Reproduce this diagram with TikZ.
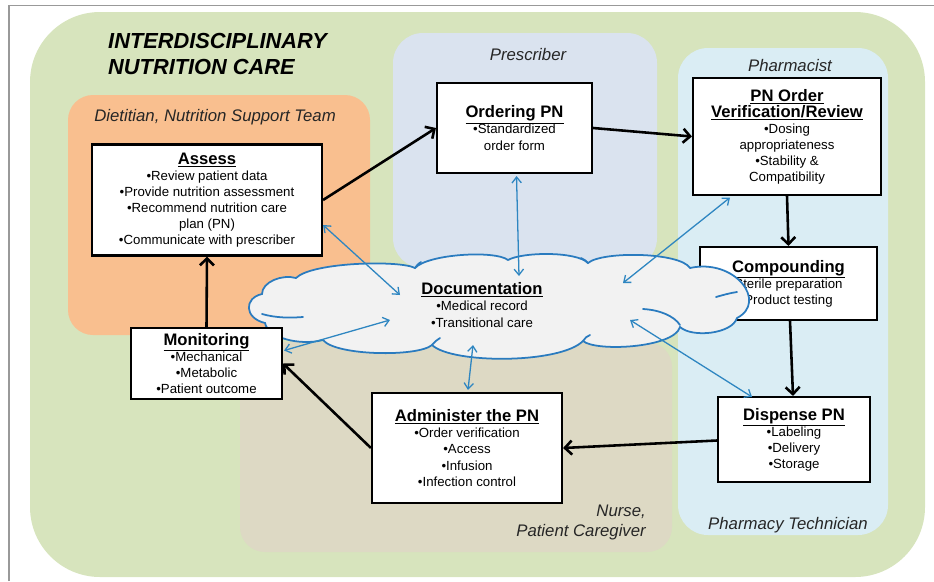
\documentclass[tikz,border=0pt]{standalone}
\usepackage{fontspec}
\setmainfont{Liberation Sans}
\usetikzlibrary{arrows.meta,calc}
\definecolor{greenbg}{HTML}{D7E4BD}
\definecolor{orangebg}{HTML}{F9BF8F}
\definecolor{prescbg}{HTML}{DAE3EF}
\definecolor{pharmbg}{HTML}{DAEDF4}
\definecolor{nursebg}{HTML}{DDD9C4}
\definecolor{cloudfill}{HTML}{F2F2F2}
\definecolor{cloudline}{HTML}{2A7BBF}
\definecolor{linkblue}{HTML}{2E86C1}
\newcommand\mttl[1]{{\fontsize{14.2}{16}\selectfont\bfseries\underline{#1}}}
\tikzset{
  frame/.style={draw=gray!80, line width=0.9pt},
  grouplabel/.style={font=\fontsize{14.3}{17}\selectfont\itshape, text=black!85, inner sep=0pt},
  stepbox/.style={draw=black, line width=1.8pt, fill=white, align=center, inner sep=0pt,
     font=\fontsize{11.3}{13.7}\selectfont},
  cloudedge/.style={draw=cloudline, line width=1.5pt, line cap=round},
  flow/.style={draw=black, line width=2.2pt, -{Straight Barb[length=6pt,width=12pt]}},
  link/.style={draw=linkblue, line width=1.1pt, {Straight Barb[length=5pt,width=8pt]}-{Straight Barb[length=5pt,width=8pt]}}
}
\begin{document}
\begin{tikzpicture}[x=0.03cm,y=-0.03cm]
\useasboundingbox (0,0) rectangle (934,581);
% frame
\draw[frame] (9,581) -- (9,5.7) -- (934,5.7);
% regions
\fill[greenbg, rounded corners=2.1cm] (30,12) rectangle (925,577);
\fill[orangebg, rounded corners=0.75cm] (68,95) rectangle (370,335);
\fill[prescbg, rounded corners=0.9cm] (393,33) rectangle (657,268);
\fill[pharmbg, rounded corners=0.9cm] (678,48) rectangle (888,535);
\fill[nursebg, rounded corners=0.75cm] (240,342) rectangle (672,552);
% labels
\node[anchor=base west, inner sep=0pt, align=left, font=\fontsize{18.6}{22}\selectfont\bfseries\itshape] (title) at (108,74)
  {INTERDISCIPLINARY\\[-0.5pt]NUTRITION CARE};
\node[grouplabel] (lblD) at (215,117) {Dietitian, Nutrition Support Team};
\node[grouplabel] (lblP) at (528,55) {Prescriber};
\node[grouplabel] (lblPh) at (790,66) {Pharmacist};
\node[grouplabel] (lblT) at (788,525) {Pharmacy Technician};
\node[grouplabel, align=right, anchor=south east] (lblN) at (646,540) {Nurse,\\Patient Caregiver};
% step boxes
\node[stepbox, minimum width=6.9cm, minimum height=3.33cm] (assess) at (207,200)
  {\mttl{Assess}\\•Review patient data\\•Provide nutrition assessment\\•Recommend nutrition care\\plan (PN)\\•Communicate with prescriber};
\node[stepbox, minimum width=4.65cm, minimum height=2.7cm] (order) at (514.5,128)
  {\mttl{Ordering PN}\\•Standardized\\order form};
\node[stepbox, minimum width=5.64cm, minimum height=3.51cm] (verif) at (787,136.5)
  {\mttl{PN Order}\\\mttl{Verification/Review}\\•Dosing\\appropriateness\\•Stability \&\\Compatibility};
\node[stepbox, minimum width=5.31cm, minimum height=2.19cm] (comp) at (788.5,283.5)
  {\mttl{Compounding}\\Sterile preparation\\Product testing};
\node[stepbox, minimum width=4.56cm, minimum height=2.55cm] (disp) at (794,439.5)
  {\mttl{Dispense PN}\\•Labeling\\•Delivery\\•Storage};
\node[stepbox, minimum width=5.7cm, minimum height=3.3cm] (admin) at (467,448)
  {\mttl{Administer the PN}\\•Order verification\\•Access\\•Infusion\\•Infection control};
% cloud (documentation)
\path[cloudedge, fill=cloudfill]
  (265,323) .. controls (244,318) and (244,298) .. (262,294)
  .. controls (262,282) and (282,274) .. (296,278)
  .. controls (312,262) and (400,260) .. (415,268)
  .. controls (428,254) and (495,250) .. (508,260)
  .. controls (522,252) and (576,251) .. (588,263)
  .. controls (602,251) and (680,252) .. (690,268)
  .. controls (735,258) and (768,302) .. (737,318)
  .. controls (732,334) and (692,338) .. (680,327)
  .. controls (674,348) and (596,352) .. (583,341)
  .. controls (560,364) and (452,364) .. (432,345)
  .. controls (418,357) and (336,356) .. (323,340)
  .. controls (300,346) and (268,338) .. (265,323) -- cycle;
\draw[cloudedge] (262,314) .. controls (276,318) and (290,318) .. (303,317);
\draw[cloudedge] (737,292) .. controls (730,293) and (723,295) .. (716,297);
\draw[cloudedge] (643,309) .. controls (660,310) and (674,316) .. (680,325);
\draw[cloudedge] (415,268) .. controls (416,266) and (418,264) .. (421,262);
\draw[cloudedge] (588,263) .. controls (586,261) and (584,259) .. (581,258);
\draw[cloudedge] (432,345) .. controls (434,342) and (437,340) .. (440,338);
\draw[cloudedge] (583,341) .. controls (585,338) and (587,336) .. (590,335);
\node[inner sep=0pt] (cloud) at (498.5,306) {};
\node[stepbox, minimum width=4.53cm, minimum height=2.13cm] (monit) at (206.5,363.5)
  {\mttl{Monitoring}\\•Mechanical\\•Metabolic\\•Patient outcome};
\node[align=center, inner sep=0pt, font=\fontsize{11.3}{13.7}\selectfont] (doc) at (482,305)
  {\mttl{Documentation}\\•Medical record\\•Transitional care};
% flow arrows
\draw[flow] (assess.east) -- (order.west);
\draw[flow] (order.east) -- (verif.west);
\draw[flow] (verif.south) -- (comp.north);
\draw[flow] ($(comp.south)+(1.5,0)$) -- ($(disp.north)+(-1,0)$);
\draw[flow] ($(disp.west)+(0,1)$) -- (admin.east);
\draw[flow] (admin.west) -- (monit.east);
\draw[flow] (monit.north) -- (assess.south);
% documentation links
\coordinate (d1) at (400,295);
\coordinate (d2) at (519,276);
\coordinate (d3) at (623,283);
\coordinate (d4) at (390,320);
\coordinate (d5) at (473,345);
\coordinate (d6) at (630,320);
\draw[link] ($(assess.east)+(0,25)$) -- (d1);
\draw[link] ($(order.south)+(2,2)$) -- (d2);
\draw[link] ($(verif.south)+(-57,1.5)$) -- (d3);
\draw[link] ($(monit.east)+(1,-13)$) -- (d4);
\draw[link] ($(admin.north)+(1,-2)$) -- (d5);
\draw[link] ($(disp.north)+(-42,1)$) -- (d6);
\end{tikzpicture}
\end{document}
